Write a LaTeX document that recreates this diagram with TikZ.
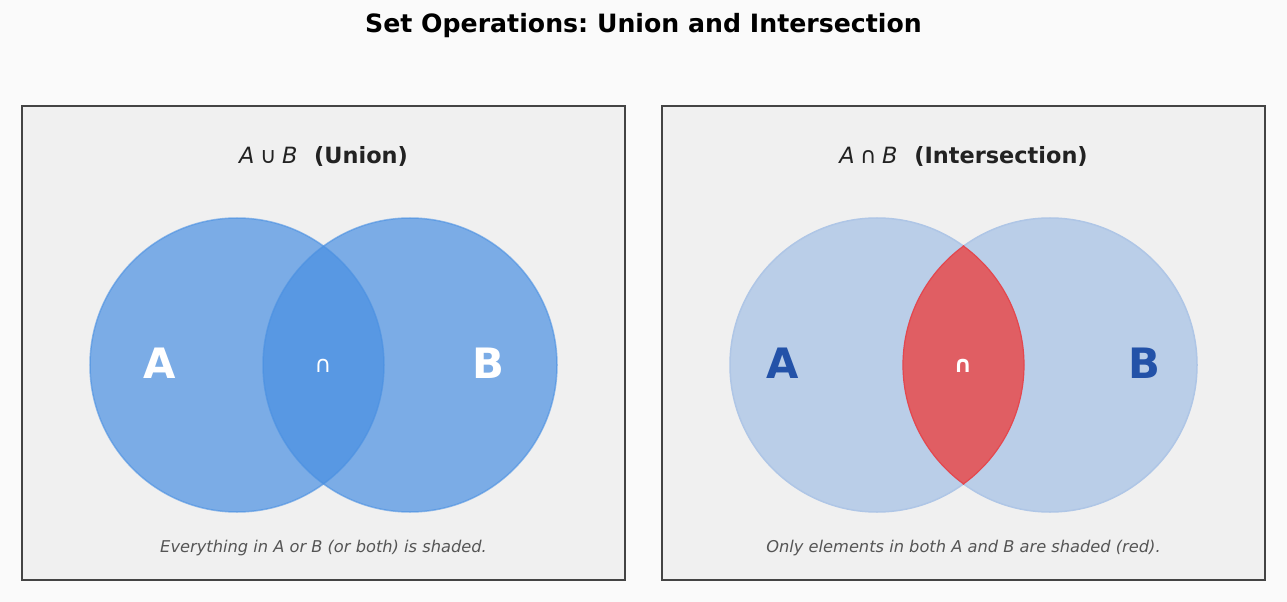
\documentclass[tikz,border=0pt]{standalone}
\usepackage{fontspec}
\setmainfont{DejaVu Sans}
\frenchspacing
\definecolor{bgc}{HTML}{FAFAFA}
\definecolor{panelfill}{HTML}{F0F0F0}
\definecolor{panelborder}{HTML}{444444}
\definecolor{setblue}{HTML}{4A90E2}
\definecolor{lightblue}{HTML}{BACEE8}
\definecolor{lightedge}{HTML}{AFC6E6}
\definecolor{interred}{HTML}{E05E63}
\definecolor{rededge}{HTML}{E4474E}
\definecolor{darkletter}{HTML}{2352A8}
\definecolor{captiongray}{HTML}{555555}
\definecolor{titledark}{HTML}{222222}
\tikzset{
  panel/.style={draw=panelborder, line width=2bp, fill=panelfill, minimum width=603bp, minimum height=474bp, inner sep=0pt},
  setcircle/.style={circle, minimum size=294bp, inner sep=0pt},
  unionset/.style={setcircle, fill=setblue, fill opacity=0.7, draw=setblue, draw opacity=0.6, line width=1.5bp},
  faintset/.style={setcircle, fill=lightblue, draw=lightedge, line width=1.5bp},
  ptitle/.style={font=\fontsize{22.5}{26}\selectfont, text=titledark},
  caption/.style={font=\fontsize{16.3}{19}\selectfont\itshape, text=captiongray},
  bigletter/.style={font=\fontsize{42}{46}\selectfont\bfseries},
}
\begin{document}
\begin{tikzpicture}[x=1bp,y=-1bp]
\fill[bgc] (0,0) rectangle (1287,602);
\useasboundingbox (0,0) rectangle (1287,602);
\node[font=\fontsize{25.3}{29}\selectfont\bfseries] (title) at (643.5,26) {Set Operations: Union and Intersection};

% left panel
\node[panel] (p1) at (323.5,343) {};
\node[ptitle] (t1) at (323.5,156) {\textit{A}\hspace{0.25em}∪\hspace{0.25em}\textit{B}\hspace{0.75em}\textbf{(Union)}};
\node[unionset] (A1) at (237,365) {};
\node[unionset] (B1) at (410,365) {};
\node[bigletter, text=white] (la1) at (160,363) {A};
\node[bigletter, text=white] (lb1) at (488,363) {B};
\node[font=\fontsize{23}{26}\selectfont, text=white] (u1) at (323,366) {∩};
\node[caption] (c1) at (323.5,548) {Everything in A or B (or both) is shaded.};

% right panel
\node[panel] (p2) at (963.5,343) {};
\node[ptitle] (t2) at (963.5,156) {\textit{A}\hspace{0.25em}∩\hspace{0.25em}\textit{B}\hspace{0.75em}\textbf{(Intersection)}};
\node[faintset] (A2) at (877,365) {};
\node[faintset] (B2) at (1050,365) {};
\begin{scope}
  \clip (877,365) circle[radius=147bp];
  \fill[interred] (1050,365) circle[radius=147bp];
\end{scope}
\begin{scope}
  \clip (877,365) circle[radius=147.8bp];
  \draw[rededge, line width=1.2bp] (1050,365) circle[radius=147bp];
\end{scope}
\begin{scope}
  \clip (1050,365) circle[radius=147.8bp];
  \draw[rededge, line width=1.2bp] (877,365) circle[radius=147bp];
\end{scope}
\node[bigletter, text=darkletter] (la2) at (783,363) {A};
\node[bigletter, text=darkletter] (lb2) at (1144,363) {B};
\node[font=\fontsize{23}{26}\selectfont\bfseries, text=white] (u2) at (963,366) {∩};
\node[caption] (c2) at (963.5,548) {Only elements in both A and B are shaded (red).};
\end{tikzpicture}
\end{document}
